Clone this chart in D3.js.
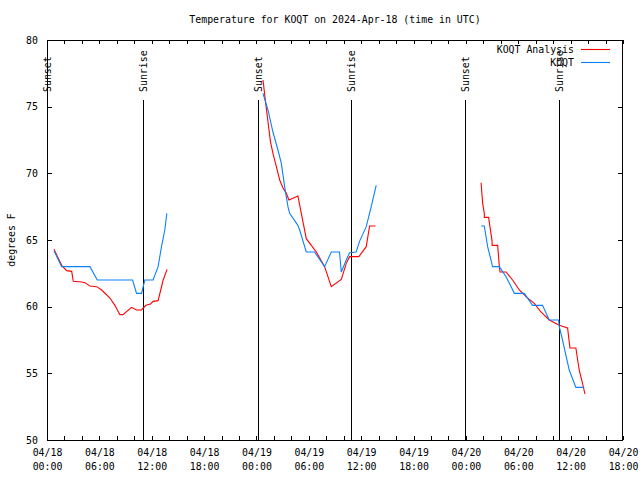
<!DOCTYPE html>
<html><head><meta charset="utf-8">
<script src="https://cdn.jsdelivr.net/npm/d3@7"></script>
<style>
html,body{margin:0;padding:0;background:#fff;}
svg{display:block;}
text{font-family:"DejaVu Sans Mono",monospace;font-size:9.9px;fill:#000;}
</style></head>
<body>
<svg id="c" width="640" height="480"></svg>
<script>
// ---- data (hours since 2024-04-18 00:00 UTC, temperature in F); null = gap
const analysisHours = [0.80,1.68,2.25,2.83,3.01,3.97,4.35,4.92,5.69,6.26,7.21,7.78,8.35,8.70,9.69,10.26,10.83,11.33,11.86,12.16,12.73,13.31,13.76,
  null,
  24.75,25.06,25.60,25.89,26.28,26.66,27.04,27.43,27.72,28.75,29.14,29.71,30.29,30.86,31.81,32.57,33.72,34.29,34.67,35.73,36.58,36.96,37.64,
  null,
  49.74,49.92,50.11,50.11,50.60,51.00,51.00,51.64,51.83,51.91,52.60,53.35,54.12,54.89,55.83,56.60,57.55,58.70,59.65,59.92,60.60,60.98,61.36,61.64];
const analysisTemps = [64.3,63.1,62.7,62.65,61.9,61.85,61.8,61.55,61.5,61.25,60.65,60.1,59.4,59.4,59.95,59.75,59.75,60.1,60.2,60.4,60.45,62.0,62.8,
  null,
  77.0,75.25,72.4,71.5,70.5,69.5,68.9,68.5,68.0,68.3,67.0,65.1,64.6,64.1,63.0,61.5,62.05,63.25,63.75,63.75,64.5,66.05,66.05,
  null,
  69.3,67.75,67.0,66.7,66.7,64.9,64.6,64.6,63.0,62.6,62.6,62.0,61.25,60.75,60.25,59.6,59.0,58.6,58.4,56.9,56.9,55.25,54.25,53.45];
const obsHours = [0.80,1.68,4.92,5.76,9.81,10.26,10.83,11.21,12.16,12.73,13.12,13.50,13.73,
  null,
  24.75,25.32,25.89,26.46,26.85,27.23,27.61,27.80,28.75,28.95,29.71,30.66,31.81,32.57,33.52,33.72,34.29,34.67,35.43,35.81,36.58,37.15,37.72,
  null,
  49.74,50.11,50.49,51.06,51.83,52.60,53.55,54.69,55.64,56.78,57.55,58.62,58.70,59.07,59.84,60.60,61.56];
const obsTemps = [64.2,63.0,63.0,62.0,62.0,61.0,61.0,62.0,62.0,63.0,64.5,65.75,67.0,
  null,
  76.0,74.75,73.1,71.75,70.75,69.0,67.5,67.0,66.1,65.75,64.1,64.1,63.0,64.1,64.1,62.6,63.5,64.05,64.1,64.9,66.0,67.5,69.1,
  null,
  66.05,66.05,64.5,63.0,63.0,62.25,61.0,61.0,60.1,60.1,59.0,59.0,58.5,57.5,55.25,53.95,53.95];
const sunHours = [0.0, 10.98, 24.14, 34.78, 47.94, 58.70];
const sunLabels = ["Sunset","Sunrise","Sunset","Sunrise","Sunset","Sunrise"];
const xTickDates = ["04/18","04/18","04/18","04/18","04/19","04/19","04/19","04/19","04/20","04/20","04/20","04/20"];
const xTickTimes = ["00:00","06:00","12:00","18:00","00:00","06:00","12:00","18:00","00:00","06:00","12:00","18:00"];
const yTicks = [50,55,60,65,70,75,80];
const seriesNames = ["KOQT Analysis","KOQT"];
const seriesColors = ["#ff0000","#0a80ff"];
const titleText = "Temperature for KOQT on 2024-Apr-18 (time in UTC)";
const yLabelText = "degrees F";

// ---- layout
const L = 47, R = 623, T = 40, B = 440;
const t0 = Date.UTC(2024,3,18,0,0);
const toDate = h => new Date(t0 + h*3600e3);
const x = d3.scaleUtc().domain([toDate(0), toDate(66)]).range([L, R]);
const y = d3.scaleLinear().domain([50, 80]).range([B, T]);

const svg = d3.select("#c");

// title
svg.append("text").attr("x", (L+R)/2).attr("y", 20).attr("text-anchor","middle")
  .attr("dominant-baseline","middle").text(titleText);

// y label
svg.append("text").attr("transform", `translate(12,${(T+B)/2}) rotate(-90)`)
  .attr("text-anchor","middle").attr("dominant-baseline","middle").text(yLabelText);

// frame
svg.append("rect").attr("x", L+0.5).attr("y", T+0.5).attr("width", R-L-1).attr("height", B-T)
  .attr("fill","none").attr("stroke","#000").attr("stroke-width",1).attr("shape-rendering","crispEdges");

// x ticks every 2 hours (bottom & top)
const minorTicks = d3.range(0, 67, 2).map(toDate);
const tk = svg.append("g").attr("stroke","#000").attr("shape-rendering","crispEdges");
minorTicks.forEach(d => {
  const xx = Math.round(x(d))+0.5;
  tk.append("line").attr("x1",xx).attr("x2",xx).attr("y1",B).attr("y2",B-4);
  tk.append("line").attr("x1",xx).attr("x2",xx).attr("y1",T).attr("y2",T+4);
});
// y ticks (left & right)
yTicks.forEach(v => {
  const yy = Math.round(y(v))+0.5;
  tk.append("line").attr("x1",L).attr("x2",L+5).attr("y1",yy).attr("y2",yy);
  tk.append("line").attr("x1",R).attr("x2",R-5).attr("y1",yy).attr("y2",yy);
});

// bottom axis labels via d3 axis (ticks every 6h)
const labelTicks = d3.range(0, 67, 6).map(toDate);
const xAxis = d3.axisBottom(x).tickValues(labelTicks).tickSize(0).tickFormat("");
const gx = svg.append("g").attr("transform", `translate(0,${B})`).call(xAxis);
gx.select(".domain").remove();
gx.selectAll(".tick").each(function(d,i){
  const g = d3.select(this);
  g.selectAll("text").remove();
  g.append("text").attr("y", 13).attr("text-anchor","middle").attr("dominant-baseline","middle").text(xTickDates[i]);
  g.append("text").attr("y", 27).attr("text-anchor","middle").attr("dominant-baseline","middle").text(xTickTimes[i]);
});

// y axis labels
const yAxis = d3.axisLeft(y).tickValues(yTicks).tickSize(0).tickPadding(0);
const gy = svg.append("g").attr("transform", `translate(${L-9},0)`).call(yAxis);
gy.select(".domain").remove();
gy.selectAll("text").attr("font-family",null).attr("font-size",null).attr("dy",null)
  .attr("dominant-baseline","middle").attr("text-anchor","end");

// sunrise/sunset lines
sunHours.forEach((h,i) => {
  const xx = Math.round(x(toDate(h)))+0.5;
  svg.append("line").attr("x1",xx).attr("x2",xx).attr("y1",y(75.5)).attr("y2",B)
    .attr("stroke","#000").attr("stroke-width",1).attr("shape-rendering","crispEdges");
  svg.append("text").attr("transform",`translate(${xx},92) rotate(-90)`)
    .attr("text-anchor","start").attr("dominant-baseline","middle").text(sunLabels[i]);
});

// series
const line = d3.line().defined(d => d[0] != null && d[1] != null)
  .x(d => x(toDate(d[0]))).y(d => y(d[1]));
const series = [
  d3.zip(analysisHours, analysisTemps),
  d3.zip(obsHours, obsTemps)
];
series.forEach((s,i) => {
  svg.append("path").datum(s).attr("d", line).attr("fill","none")
    .attr("stroke", seriesColors[i]).attr("stroke-width",1.1);
});

// legend
seriesNames.forEach((n,i) => {
  const yy = 50 + i*12.5;
  svg.append("text").attr("x",574).attr("y",yy).attr("text-anchor","end")
    .attr("dominant-baseline","middle").text(n);
  svg.append("line").attr("x1",581).attr("x2",610).attr("y1",Math.round(yy)-0.5).attr("y2",Math.round(yy)-0.5)
    .attr("stroke",seriesColors[i]).attr("stroke-width",1.1);
});
</script>
</body></html>
